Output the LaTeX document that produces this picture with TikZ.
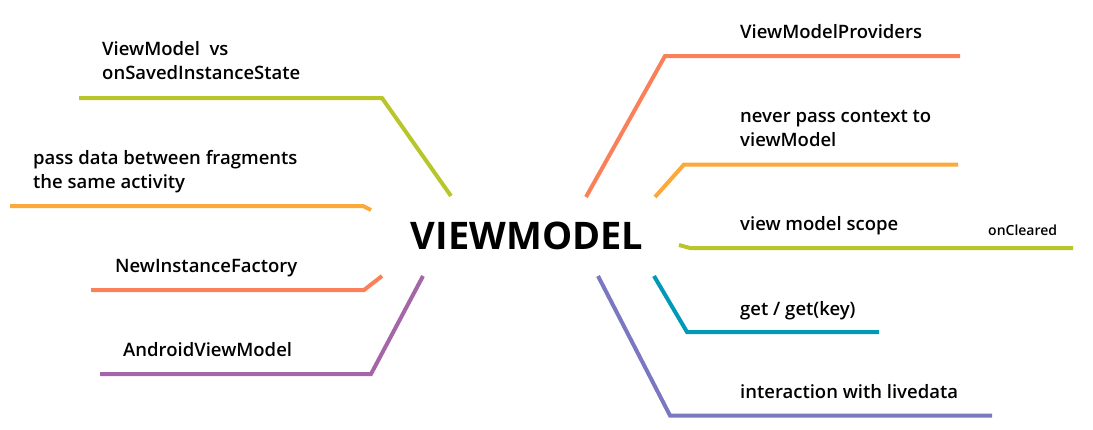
\documentclass[tikz,border=0pt]{standalone}
\usepackage{fontspec}
\setmainfont{Open Sans}
\newfontfamily\topicfont{Open Sans Semibold}
\usetikzlibrary{positioning}

\definecolor{lime}{HTML}{B8C62B}
\definecolor{amber}{HTML}{FDA93A}
\definecolor{salmon}{HTML}{F98058}
\definecolor{plum}{HTML}{A566A8}
\definecolor{iris}{HTML}{7C77C1}
\definecolor{teal}{HTML}{009AB6}

\begin{document}
\begin{tikzpicture}[x=1pt, y=-1pt,
		branch/.style={line width=4pt, line join=miter},
		topic/.style={anchor=base west, inner sep=0pt, align=left,
			font=\topicfont\fontsize{18.5}{23.5}\selectfont},
	]
			\useasboundingbox (0, 0) rectangle (1093, 429);
			\node[inner sep=0pt, anchor=base, font=\fontsize{38}{40}\selectfont\bfseries] (vm) at (527, 249) {VIEWMODEL};

			\coordinate (vs0) at (451, 196);
			\coordinate (vs1) at (382, 98);
			\coordinate (vs2) at (79, 98);
			\draw[branch, lime] (vs0) -- (vs1) -- (vs2);
			\node[topic] (vs) at (102, 79) {ViewModel\ \ vs\\onSavedInstanceState};

			\coordinate (pd0) at (371, 210);
			\coordinate (pd1) at (363, 206);
			\coordinate (pd2) at (10, 206);
			\draw[branch, amber] (pd0) -- (pd1) -- (pd2);
			\node[topic] (pd) at (33, 188) {pass data between fragments\\the same activity};

			\coordinate (nf0) at (382, 276);
			\coordinate (nf1) at (364, 290);
			\coordinate (nf2) at (91, 290);
			\draw[branch, salmon] (nf0) -- (nf1) -- (nf2);
			\node[topic] (nf) at (115, 272) {NewInstanceFactory};

			\coordinate (av0) at (423, 276);
			\coordinate (av1) at (371, 374);
			\coordinate (av2) at (100, 374);
			\draw[branch, plum] (av0) -- (av1) -- (av2);
			\node[topic] (av) at (123, 356) {AndroidViewModel};

			\coordinate (vp0) at (586, 197);
			\coordinate (vp1) at (665, 56);
			\coordinate (vp2) at (960, 56);
			\draw[branch, salmon] (vp0) -- (vp1) -- (vp2);
			\node[topic] (vp) at (740, 38) {ViewModelProviders};

			\coordinate (np0) at (655, 197);
			\coordinate (np1) at (684, 164.5);
			\coordinate (np2) at (958, 164.5);
			\draw[branch, amber] (np0) -- (np1) -- (np2);
			\node[topic] (np) at (740, 146) {never pass context to\\viewModel};

			\coordinate (sc0) at (679, 245);
			\coordinate (sc1) at (690, 248);
			\coordinate (sc2) at (1073, 248);
			\draw[branch, lime] (sc0) -- (sc1) -- (sc2);
			\node[topic] (sc) at (740, 230) {view model scope};
			\node[anchor=base west, inner sep=0pt, font=\topicfont\fontsize{14}{15}\selectfont] (oc) at (988, 235) {onCleared};

			\coordinate (gk0) at (654, 276);
			\coordinate (gk1) at (687, 332);
			\coordinate (gk2) at (879, 332);
			\draw[branch, teal] (gk0) -- (gk1) -- (gk2);
			\node[topic] (gk) at (740, 315) {get / get(key)};

			\coordinate (ld0) at (598, 276);
			\coordinate (ld1) at (670, 415.5);
			\coordinate (ld2) at (992, 415.5);
			\draw[branch, iris] (ld0) -- (ld1) -- (ld2);
			\node[topic] (ld) at (740, 398) {interaction with livedata};
		\end{tikzpicture}
\end{document}
